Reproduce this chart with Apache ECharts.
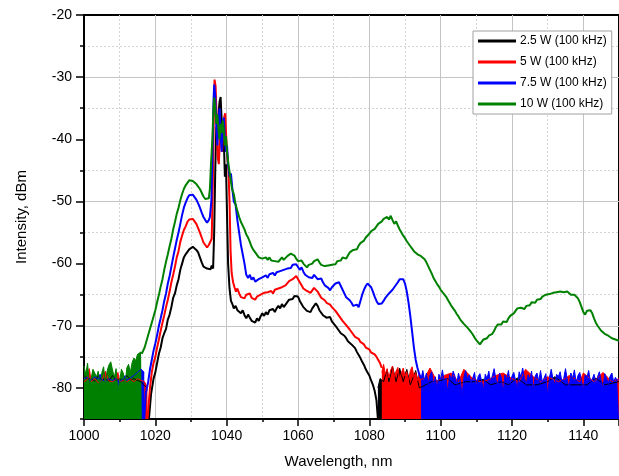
<!DOCTYPE html>
<html>
<head>
<meta charset="utf-8">
<script src="https://cdn.jsdelivr.net/npm/echarts@6/dist/echarts.min.js"></script>
<style>
html,body{margin:0;padding:0;background:#fff;}
#c{width:619px;height:476px;}
</style>
</head>
<body>
<div id="c"></div>
<script>
// ---------- DATA ----------
const seriesNames = ['2.5 W (100 kHz)', '5 W (100 kHz)', '7.5 W (100 kHz)', '10 W (100 kHz)'];
const xTickLabels = [1000, 1020, 1040, 1060, 1080, 1100, 1120, 1140];
const yTickLabels = [-80, -70, -60, -50, -40, -30, -20];

// 2.5 W spectrum
const black_main = [[1018.2,-85],[1018.8,-81],[1019.5,-78.5],[1020,-77.5],[1020.5,-76],[1021,-74.5],[1021.5,-73.5],[1022,-72],[1022.5,-71.2],[1023,-70.5],[1023.5,-69],[1024,-68.2],[1024.5,-67],[1025,-65.5],[1025.5,-64.8],[1026,-63.5],[1026.5,-62.5],[1027,-61],[1027.5,-60],[1028,-59],[1028.5,-58.5],[1029,-58.2],[1029.5,-57.7],[1030,-57.8],[1030.5,-57.3],[1031,-57.4],[1031.5,-57.8],[1032,-58.2],[1032.5,-59],[1033,-59.8],[1033.5,-60.5],[1034,-60.4],[1034.5,-60.8],[1035,-60.5],[1035.5,-60.9],[1035.8,-60.3],[1036.2,-60.8],[1036.5,-55],[1036.8,-45],[1037.1,-38],[1037.4,-40],[1037.7,-36],[1038,-34],[1038.3,-33.2],[1038.6,-37],[1038.9,-42],[1039.2,-40],[1039.5,-46],[1039.8,-44],[1040.1,-52],[1040.4,-60],[1040.8,-64],[1041.2,-66],[1041.6,-66.5],[1042,-67.2],[1042.5,-66.8],[1043,-67.5],[1043.5,-67.2],[1044,-68],[1044.5,-67.5],[1045,-68.3],[1045.5,-68.8],[1046,-68.2],[1046.5,-68.7],[1047,-69.2],[1047.5,-69],[1048,-69.5],[1048.5,-68.8],[1049,-69.2],[1049.5,-68.5],[1050,-68],[1050.5,-68.4],[1051,-67.8],[1051.5,-68.2],[1052,-67.5],[1052.5,-67.8],[1053,-67.3],[1053.5,-67.8],[1054,-67.2],[1054.5,-66.8],[1055,-67.2],[1055.5,-66.5],[1056,-67],[1056.5,-66.6],[1057,-66.2],[1057.5,-65.8],[1058,-65.5],[1058.5,-65.7],[1059,-65.2],[1059.5,-65],[1060,-65.3],[1060.5,-66],[1061,-66.5],[1061.5,-67],[1062,-67.3],[1062.5,-67.6],[1063,-67.3],[1063.5,-67.8],[1064,-67.2],[1064.5,-66.8],[1065,-66.4],[1065.5,-66.8],[1066,-67.5],[1066.5,-67.9],[1067,-68.3],[1067.5,-68.1],[1068,-68.7],[1068.5,-69],[1069,-68.6],[1069.5,-69.3],[1070,-69.5],[1070.5,-70],[1071,-70.3],[1071.5,-70.8],[1072,-71.2],[1072.5,-71],[1073,-71.6],[1073.5,-72],[1074,-72.5],[1074.5,-72.2],[1075,-73],[1075.5,-73.3],[1076,-73.6],[1076.5,-74.2],[1077,-74.5],[1077.5,-75.2],[1078,-75.8],[1078.5,-76.3],[1079,-77],[1079.5,-77.5],[1080,-78],[1080.5,-78.8],[1081,-79.5],[1081.5,-80.5],[1082,-82],[1082.4,-85]];
const black_noise_left = [[1000,-78],[1001,-78.6],[1002,-78.5],[1003,-78.9],[1004,-78],[1005,-78.7],[1006,-78.5],[1007,-78.9],[1008,-78],[1009,-78.8],[1010,-78.5],[1011,-78.9],[1012,-78],[1013,-78.7],[1014,-78.5],[1015,-78.8],[1016,-79],[1017.6,-80]];
const black_noise_right = [[1082.4,-80],[1083,-78.5],[1084,-79],[1085,-77],[1085.5,-79],[1086.5,-76.5],[1087.5,-79],[1088.5,-76.8],[1089.5,-79],[1090.5,-77],[1091.5,-79.5],[1093,-77.2],[1094,-80],[1097.5,-79],[1100,-78.8],[1102,-78.5],[1104,-79.5],[1107,-79],[1110,-79],[1112,-78.6],[1114,-79.5],[1117,-79],[1119,-79.5],[1121.5,-78.4],[1124,-79.5],[1127,-79.5],[1130,-79],[1132,-78.2],[1135,-79.5],[1138,-79.5],[1141,-79.5],[1143.5,-78.4],[1146,-79.5],[1150,-79]];

// 5 W spectrum
const red_main = [[1017.8,-85],[1018.5,-80],[1019,-77.5],[1019.5,-76],[1020,-75],[1020.5,-73.5],[1021,-72.2],[1021.5,-70.8],[1022,-69.5],[1022.5,-68.3],[1023,-67],[1023.5,-65.8],[1024,-64.5],[1024.5,-63],[1025,-61.8],[1025.5,-60.5],[1026,-59],[1026.5,-58],[1027,-56.5],[1027.5,-55.5],[1028,-54.6],[1028.5,-54],[1029,-53.3],[1029.5,-52.9],[1030,-52.6],[1030.5,-52.8],[1031,-53.2],[1031.5,-53.6],[1032,-54.3],[1032.5,-55],[1033,-55.8],[1033.5,-56.6],[1034,-57],[1034.5,-57.4],[1035,-57],[1035.5,-57.3],[1035.8,-56],[1036.1,-48],[1036.4,-36],[1036.6,-30.4],[1036.9,-31.5],[1037.2,-37],[1037.5,-43],[1037.8,-44],[1038.1,-40],[1038.4,-38],[1038.7,-42],[1039,-39],[1039.3,-36.5],[1039.6,-35.8],[1039.9,-40],[1040.2,-43],[1040.5,-45],[1040.8,-50],[1041.1,-58],[1041.4,-61.5],[1041.8,-63],[1042.2,-63.8],[1042.6,-64.5],[1043,-64],[1043.5,-64.8],[1044,-65.4],[1044.5,-65.2],[1045,-65.6],[1045.5,-65],[1046,-65.3],[1046.5,-64.8],[1047,-65.5],[1047.5,-65.2],[1048,-65.8],[1048.5,-65.3],[1049,-65.5],[1049.5,-65],[1050,-65.2],[1050.5,-64.7],[1051,-65],[1051.5,-64.6],[1052,-64.9],[1052.5,-64.4],[1053,-64.8],[1053.5,-64.2],[1054,-64.5],[1054.5,-64],[1055,-64.3],[1055.5,-63.8],[1056,-64.1],[1056.5,-63.5],[1057,-63.2],[1057.5,-62.8],[1058,-62.9],[1058.5,-62.5],[1059,-62.2],[1059.5,-62],[1060,-62.3],[1060.5,-63],[1061,-63.5],[1061.5,-64],[1062,-63.8],[1062.5,-64.4],[1063,-64.2],[1063.5,-64.7],[1064,-64.3],[1064.5,-63.9],[1065,-63.8],[1065.5,-64.5],[1066,-65],[1066.5,-65.5],[1067,-65.3],[1067.5,-65.9],[1068,-66.3],[1068.5,-66],[1069,-66.6],[1069.5,-67],[1070,-67.2],[1070.5,-67.6],[1071,-68],[1071.5,-68.4],[1072,-68.8],[1072.5,-69.2],[1073,-69.5],[1073.5,-69.9],[1074,-70.2],[1074.5,-70.6],[1075,-71],[1075.5,-71.3],[1076,-71.8],[1076.5,-71.5],[1077,-72.1],[1077.5,-72.6],[1078,-72.4],[1078.5,-73],[1079,-73.5],[1079.5,-73.2],[1080,-73.8],[1080.5,-74.3],[1081,-74],[1081.5,-74.6],[1082,-75],[1082.5,-75.5],[1083,-76],[1083.5,-76.8]];
const red_noise_left = [[1000,-79],[1001,-78.6],[1001.5,-76.9],[1002,-79],[1003,-78.5],[1004,-79.2],[1005,-78.8],[1006,-77.3],[1007,-78.9],[1008,-79],[1009,-78.6],[1009.5,-77.5],[1010,-79],[1011,-78.8],[1012,-79],[1013,-78.6],[1014,-79],[1015,-78.5],[1016,-78.8],[1017,-79],[1017.8,-80]];
const red_noise_right = [[1083.5,-77.5],[1084,-76.2],[1084.5,-77.8],[1085,-76.9],[1085.5,-78.4],[1086,-77.1],[1086.5,-76.5],[1087,-78.2],[1087.5,-77.3],[1088,-76.7],[1088.5,-78.6],[1089,-77.6],[1089.5,-76.8],[1090,-78.1],[1090.5,-77.4],[1091,-78.9],[1091.5,-77.2],[1092,-76.6],[1092.5,-78.3],[1093,-77.5],[1093.5,-78.8],[1094,-77.7],[1094.5,-78.6],[1095.5,-78.5],[1097,-76.8],[1099,-79],[1101,-78],[1103,-77.6],[1105,-79],[1106.5,-77],[1109,-78.5],[1111,-79],[1113,-78.8],[1115.5,-78],[1117.5,-77.6],[1120,-78.5],[1122,-79],[1123.8,-77],[1126,-78.2],[1128,-79],[1130,-78.2],[1133,-79],[1135,-78.5],[1136,-78],[1139,-79],[1140,-77.6],[1143,-79],[1145.5,-77.5],[1148,-79],[1150,-78.5]];

// 7.5 W spectrum
const blue_main = [[1016.9,-85],[1017.3,-81],[1018,-79],[1018.5,-77],[1019,-75.5],[1019.5,-74],[1020,-72.8],[1020.5,-71.5],[1021,-70],[1021.5,-68.8],[1022,-67.5],[1022.5,-66],[1023,-64.8],[1023.5,-63.2],[1024,-62],[1024.5,-60.5],[1025,-59],[1025.5,-57.6],[1026,-56.2],[1026.5,-55],[1027,-53.6],[1027.5,-52.2],[1028,-51],[1028.5,-50.2],[1029,-49.5],[1029.5,-49],[1030,-48.7],[1030.5,-48.9],[1031,-49.2],[1031.5,-49.7],[1032,-50.3],[1032.5,-51],[1033,-51.8],[1033.5,-52.5],[1034,-53],[1034.5,-53.4],[1035,-53],[1035.3,-52.5],[1035.7,-50],[1036,-43],[1036.3,-34],[1036.5,-31.2],[1036.8,-33],[1037.1,-38],[1037.4,-41],[1037.7,-37],[1038,-35],[1038.3,-39],[1038.6,-42],[1038.9,-38],[1039.2,-36.5],[1039.5,-40],[1039.8,-42],[1040.1,-41],[1040.4,-44],[1040.8,-46],[1041.2,-45.5],[1041.6,-48],[1042,-50],[1042.5,-50.5],[1043,-53],[1043.5,-55],[1044,-57],[1044.5,-58.5],[1045,-60],[1045.5,-61.8],[1046,-62.3],[1046.5,-61.8],[1047,-62.6],[1047.5,-62.2],[1048,-62.9],[1048.5,-63.2],[1049,-62.5],[1049.5,-62.8],[1050,-62.2],[1050.5,-62.5],[1051,-61.9],[1051.5,-62.3],[1052,-61.7],[1052.5,-62],[1053,-61.5],[1053.5,-61.9],[1054,-61.4],[1054.5,-61.7],[1055,-61.2],[1055.5,-61.5],[1056,-61],[1056.5,-61.3],[1057,-60.8],[1057.5,-60.5],[1058,-60.7],[1058.5,-60.2],[1059,-60.5],[1059.5,-60.1],[1060,-60.4],[1060.5,-61],[1061,-60.6],[1061.5,-61.3],[1062,-61.8],[1062.5,-61.5],[1063,-62.2],[1063.5,-61.9],[1064,-62.3],[1064.5,-61.8],[1065,-62],[1065.5,-62.5],[1066,-62.8],[1066.5,-62.4],[1067,-63],[1067.5,-63.5],[1068,-63.2],[1068.5,-63.9],[1069,-64.3],[1069.5,-63.8],[1070,-63.5],[1070.5,-63.2],[1071,-63.4],[1071.5,-63],[1072,-63.6],[1072.5,-64.2],[1073,-64.8],[1073.5,-65.4],[1074,-65.2],[1074.5,-65.9],[1075,-66.3],[1075.5,-66.8],[1076,-67],[1076.5,-66.6],[1077,-67],[1077.5,-66],[1078,-65],[1078.5,-64.2],[1079,-63.6],[1079.5,-63.2],[1080,-63.3],[1080.5,-63.8],[1081,-64.5],[1081.5,-65.3],[1082,-66],[1082.5,-66.5],[1083,-66.8],[1083.5,-66.4],[1084,-66],[1084.5,-65.5],[1085,-65.2],[1085.5,-64.8],[1086,-64.6],[1086.5,-64.2],[1087,-64],[1087.5,-63.4],[1088,-63],[1088.5,-62.5],[1089,-62.3],[1089.5,-62.5],[1090,-63.2],[1090.5,-64.5],[1091,-66.3],[1091.5,-68.5],[1092,-71],[1092.5,-73.5],[1093,-75.5],[1093.5,-76.8],[1094,-77.8],[1094.5,-78.5]];
const blue_noise_left = [[1000,-78.5],[1001,-78.3],[1002,-78.8],[1003,-78.2],[1004,-78.6],[1004.5,-77.8],[1005,-78.6],[1006,-79],[1007,-78.5],[1008,-78.8],[1009,-78.5],[1010,-79],[1011,-78.5],[1011.5,-78],[1012,-78.8],[1013,-78.4],[1014,-78],[1015,-77.5],[1016,-77],[1016.9,-77.5]];
const blue_noise_right = [[1094.5,-78.5],[1095,-77.2],[1095.5,-78.9],[1096,-77.6],[1096.5,-79.3],[1097,-78],[1097.5,-77.4],[1098,-79.6],[1098.5,-78.2],[1099,-80.3],[1099.5,-77.8],[1100,-78.6],[1100.5,-77.1],[1101,-79],[1101.5,-78.4],[1102,-80.8],[1102.5,-77.9],[1103,-78.7],[1103.5,-77.3],[1104,-78.1],[1104.5,-79.4],[1105,-77.6],[1105.5,-78.8],[1106,-81.2],[1106.5,-78.3],[1107,-77.2],[1107.5,-78.6],[1108,-77.9],[1108.5,-79.1],[1109,-78.4],[1109.5,-77.5],[1110,-79.8],[1110.5,-78.2],[1111,-77.7],[1111.5,-78.9],[1112,-80.4],[1112.5,-77.8],[1113,-78.5],[1113.5,-77.3],[1114,-79.2],[1114.5,-78],[1115,-76.9],[1115.5,-78.7],[1116,-79.5],[1116.5,-77.6],[1117,-78.3],[1117.5,-81],[1118,-77.9],[1118.5,-78.6],[1119,-77.2],[1119.5,-79.3],[1120,-78.1],[1120.5,-77.5],[1121,-78.8],[1121.5,-80.2],[1122,-77.4],[1122.5,-78.2],[1123,-76.8],[1123.5,-78.5],[1124,-79.4],[1124.5,-77.9],[1125,-78.6],[1125.5,-77.3],[1126,-80.6],[1126.5,-78.1],[1127,-77.6],[1127.5,-78.9],[1128,-77.2],[1128.5,-79.1],[1129,-78.4],[1129.5,-77.7],[1130,-81.3],[1130.5,-78.3],[1131,-77],[1131.5,-78.6],[1132,-79.5],[1132.5,-77.8],[1133,-78.2],[1133.5,-77.4],[1134,-79],[1134.5,-78.5],[1135,-76.9],[1135.5,-78.7],[1136,-80.1],[1136.5,-77.6],[1137,-78.4],[1137.5,-77.1],[1138,-79.2],[1138.5,-78],[1139,-77.5],[1139.5,-78.9],[1140,-80.5],[1140.5,-77.9],[1141,-78.3],[1141.5,-77.2],[1142,-79.1],[1142.5,-78.6],[1143,-77.8],[1143.5,-79.6],[1144,-78.2],[1144.5,-77.4],[1145,-78.8],[1145.5,-80.2],[1146,-77.7],[1146.5,-78.5],[1147,-79.3],[1147.5,-78.1],[1148,-77.6],[1148.5,-79],[1149,-78.3],[1149.5,-78.8],[1150,-78.5]];

// 10 W spectrum
const green_main = [[1016.2,-74.5],[1016.6,-74],[1017,-73.5],[1017.5,-72.5],[1018,-71.5],[1018.5,-70.5],[1019,-69.5],[1019.5,-68.5],[1020,-67.5],[1020.5,-66.2],[1021,-65],[1021.5,-63.7],[1022,-62.5],[1022.5,-61],[1023,-59.7],[1023.5,-58.5],[1024,-57.2],[1024.5,-56],[1025,-54.5],[1025.5,-53.3],[1026,-52],[1026.5,-51],[1027,-49.8],[1027.5,-48.8],[1028,-48],[1028.5,-47.4],[1029,-47],[1029.5,-46.6],[1030,-46.5],[1030.5,-46.7],[1031,-46.9],[1031.5,-47.2],[1032,-47.5],[1032.5,-48],[1033,-48.6],[1033.5,-49.2],[1034,-49.6],[1034.5,-49.8],[1035,-49.5],[1035.3,-48],[1035.6,-44],[1036,-40],[1036.3,-35],[1036.5,-33.3],[1036.8,-35],[1037.1,-37.5],[1037.4,-36],[1037.7,-38.5],[1038,-40],[1038.3,-37.5],[1038.6,-39],[1038.9,-37],[1039.2,-38.5],[1039.5,-41],[1039.8,-39.5],[1040.1,-42],[1040.5,-44],[1041,-46],[1041.5,-48],[1042,-48.8],[1042.5,-50.5],[1043,-51.5],[1043.5,-52.5],[1044,-53.3],[1044.5,-53],[1045,-54.5],[1045.5,-55.3],[1046,-55.8],[1046.5,-56.5],[1047,-57.3],[1047.5,-57.8],[1048,-58.2],[1048.5,-58.6],[1049,-59],[1049.5,-58.7],[1050,-59.2],[1050.5,-59.5],[1051,-59],[1051.5,-59.4],[1052,-59],[1052.5,-59.5],[1053,-59.2],[1053.5,-59.6],[1054,-59.3],[1054.5,-59.7],[1055,-59.4],[1055.5,-59],[1056,-59.4],[1056.5,-59.1],[1057,-58.8],[1057.5,-58.6],[1058,-58.4],[1058.5,-58.3],[1059,-58.7],[1059.5,-59.2],[1060,-59.6],[1060.5,-59.9],[1061,-59.5],[1061.5,-60],[1062,-60.2],[1062.5,-60.6],[1063,-60.2],[1063.5,-60.5],[1064,-60],[1064.5,-59.6],[1065,-59.8],[1065.5,-59.3],[1066,-59.8],[1066.5,-60.2],[1067,-60],[1067.5,-60.4],[1068,-60.7],[1068.5,-60.3],[1069,-60.6],[1069.5,-60.2],[1070,-59.9],[1070.5,-60.1],[1071,-59.6],[1071.5,-59.3],[1072,-59.5],[1072.5,-59],[1073,-58.8],[1073.5,-59.2],[1074,-58.7],[1074.5,-58.2],[1075,-58.4],[1075.5,-57.8],[1076,-57.5],[1076.5,-57.7],[1077,-57.1],[1077.5,-56.7],[1078,-56.9],[1078.5,-56.3],[1079,-55.8],[1079.5,-56],[1080,-55.2],[1080.5,-54.8],[1081,-55],[1081.5,-54.4],[1082,-54],[1082.5,-53.6],[1083,-53.8],[1083.5,-53.2],[1084,-52.8],[1084.5,-53.1],[1085,-52.5],[1085.5,-52.9],[1086,-52.3],[1086.5,-53],[1087,-53.6],[1087.5,-53.2],[1088,-53.9],[1088.5,-54.5],[1089,-55],[1089.5,-55.5],[1090,-55.9],[1090.5,-56.4],[1091,-56.8],[1091.5,-57.2],[1092,-57.6],[1092.5,-58],[1093,-58.2],[1093.5,-58.5],[1094,-58.4],[1094.5,-58.8],[1095,-59],[1095.5,-59.3],[1096,-59.8],[1096.5,-60.4],[1097,-61],[1097.5,-61.6],[1098,-62.3],[1098.5,-62.8],[1099,-63.3],[1099.5,-63.7],[1100,-64.2],[1100.5,-64.6],[1101,-64.9],[1101.5,-65.3],[1102,-65.8],[1102.5,-66.3],[1103,-66.8],[1103.5,-67.2],[1104,-67.6],[1104.5,-68.1],[1105,-68.5],[1105.5,-69],[1106,-69.3],[1106.5,-69.7],[1107,-69.9],[1107.5,-70.3],[1108,-70.6],[1108.5,-71],[1109,-71.4],[1109.5,-71.9],[1110,-72.3],[1110.5,-72.6],[1111,-73],[1111.5,-72.6],[1112,-72.2],[1112.5,-72.5],[1113,-72],[1113.5,-71.6],[1114,-71.9],[1114.5,-71.3],[1115,-70.8],[1115.5,-70.2],[1116,-69.8],[1116.5,-69.5],[1117,-69.8],[1117.5,-69.3],[1118,-69],[1118.5,-69.4],[1119,-68.8],[1119.5,-68.4],[1120,-68.5],[1120.5,-68],[1121,-67.6],[1121.5,-67.2],[1122,-67.5],[1122.5,-67.1],[1123,-66.9],[1123.5,-67.3],[1124,-66.8],[1124.5,-66.5],[1125,-66.7],[1125.5,-66.2],[1126,-66],[1126.5,-66.3],[1127,-65.8],[1127.5,-65.5],[1128,-65.7],[1128.5,-65.3],[1129,-65.4],[1129.5,-65],[1130,-65.2],[1130.5,-64.9],[1131,-65.1],[1131.5,-64.7],[1132,-64.9],[1132.5,-64.6],[1133,-64.9],[1133.5,-64.5],[1134,-64.8],[1134.5,-64.6],[1135,-64.9],[1135.5,-64.5],[1136,-64.8],[1136.5,-65],[1137,-64.7],[1137.5,-65],[1138,-65.2],[1138.5,-65.6],[1139,-66.2],[1139.5,-67],[1140,-67.8],[1140.5,-68.2],[1141,-67.6],[1141.5,-67.3],[1142,-67.5],[1142.5,-68],[1143,-68.8],[1143.5,-69.5],[1144,-70],[1144.5,-70.4],[1145,-70.8],[1145.5,-71],[1146,-71.3],[1146.5,-71.2],[1147,-71.6],[1147.5,-71.8],[1148,-72],[1149,-72.2],[1150,-72.4]];
const green_noise_left = [[1000,-76.5],[1000.5,-77.8],[1001,-76],[1001.5,-79.5],[1002,-78.5],[1002.5,-77],[1003,-76.8],[1003.5,-78.2],[1004,-77.3],[1004.5,-80],[1005,-77.5],[1005.5,-76.6],[1006,-79.5],[1006.5,-77.2],[1007,-76.3],[1007.5,-75.8],[1008,-77.1],[1008.5,-78.3],[1009,-76.9],[1009.5,-80.5],[1010,-78.8],[1010.5,-77],[1011,-77.6],[1011.5,-79.6],[1012,-76.8],[1012.5,-76.2],[1013,-77.5],[1013.5,-75.9],[1014,-75.2],[1014.5,-75.6],[1015,-74.6],[1015.5,-74.9],[1016,-74.2],[1016.2,-74.5]];

// ---------- CHART ----------
const colors = ['#000000', '#ff0000', '#0000ff', '#008000'];
const FONT = 'Liberation Sans, Arial, sans-serif';

function mainSeries(name, data, color) {
  return { name: name, type: 'line', data: data, showSymbol: false, symbol: 'none',
    lineStyle: { color: color, width: 2 }, itemStyle: { color: color },
    animation: false, xAxisIndex: 0, yAxisIndex: 0 };
}
function noiseSeries(name, data, color) {
  return { name: name + ' noise', type: 'line', data: data, showSymbol: false, symbol: 'none',
    lineStyle: { color: color, width: 1 }, itemStyle: { color: color },
    areaStyle: { color: color, opacity: 1, origin: 'start' },
    animation: false, xAxisIndex: 0, yAxisIndex: 0 };
}

const chart = echarts.init(document.getElementById('c'), null, { renderer: 'canvas' });
const option = {
  animation: false,
  backgroundColor: '#ffffff',
  textStyle: { fontFamily: FONT },
  grid: { left: 84, right: -9, top: 15, bottom: 57, show: true, borderColor: '#000', borderWidth: 2, backgroundColor: 'transparent' },
  legend: {
    data: seriesNames.map((n, i) => ({ name: n, itemStyle: { color: colors[i] } })),
    orient: 'vertical', left: 473, top: 31,
    backgroundColor: '#fff', borderColor: '#a0a0a0', borderWidth: 1, borderRadius: 0,
    padding: [3, 5, 3, 5], itemGap: 7, itemWidth: 38, itemHeight: 3, icon: 'rect',
    textStyle: { fontFamily: FONT, fontSize: 12, color: '#000', lineHeight: 14, padding: [0, 0, 0, -1] },
    selectedMode: false
  },
  xAxis: [{
    type: 'value', min: 1000, max: 1150, interval: 20,
    name: 'Wavelength, nm', nameLocation: 'middle', nameGap: 35,
    nameTextStyle: { fontFamily: FONT, fontSize: 15, color: '#000', padding: [0, 26, 0, 0] },
    axisLine: { show: true, onZero: false, lineStyle: { color: '#000', width: 2 } },
    axisTick: { show: true, length: 7, lineStyle: { color: '#000', width: 1.5 } },
    minorTick: { show: true, splitNumber: 2, length: 3, lineStyle: { color: '#000', width: 1.5 } },
    axisLabel: { fontFamily: FONT, fontSize: 14, color: '#000', margin: 10,
      customValues: xTickLabels, formatter: function (v) { return String(v); } },
    splitLine: { show: true, lineStyle: { color: '#c4c4c4', width: 1 } },
    minorSplitLine: { show: true, lineStyle: { color: '#d4d4d4', width: 1, type: [2, 2] } }
  }],
  yAxis: [{
    type: 'value', min: -85, max: -20, interval: 5,
    name: 'Intensity, dBm', nameLocation: 'middle', nameGap: 55, nameRotate: 90,
    nameTextStyle: { fontFamily: FONT, fontSize: 15, color: '#000' },
    axisLine: { show: true, onZero: false, lineStyle: { color: '#000', width: 2 } },
    axisTick: { show: true, length: 8, customValues: yTickLabels, lineStyle: { color: '#000', width: 1.5 } },
    axisLabel: { fontFamily: FONT, fontSize: 14, color: '#000', margin: 12, customValues: yTickLabels,
      formatter: function (v) { return String(v); } },
    splitLine: { show: true, lineStyle: { color: ['rgba(0,0,0,0)', '#c4c4c4'], width: 1 } }
  }, {
    type: 'value', min: -85, max: -20, interval: 5, position: 'left',
    axisLine: { show: false },
    axisTick: { show: true, length: 4, lineStyle: { color: '#000', width: 1.5 } },
    axisLabel: { show: false },
    splitLine: { show: true, lineStyle: { color: ['#d4d4d4', 'rgba(0,0,0,0)'], width: 1, type: [2, 2] } }
  }],
  series: [
    noiseSeries(seriesNames[0] + 'L', black_noise_left, colors[0]),
    noiseSeries(seriesNames[0] + 'R', black_noise_right, colors[0]),
    mainSeries(seriesNames[0], black_main, colors[0]),
    noiseSeries(seriesNames[1] + 'L', red_noise_left, colors[1]),
    noiseSeries(seriesNames[1] + 'R', red_noise_right, colors[1]),
    mainSeries(seriesNames[1], red_main, colors[1]),
    noiseSeries(seriesNames[2] + 'L', blue_noise_left, colors[2]),
    noiseSeries(seriesNames[2] + 'R', blue_noise_right, colors[2]),
    mainSeries(seriesNames[2], blue_main, colors[2]),
    noiseSeries(seriesNames[3] + 'L', green_noise_left, colors[3]),
    mainSeries(seriesNames[3], green_main, colors[3])
  ]
};
chart.setOption(option);
</script>
</body>
</html>
